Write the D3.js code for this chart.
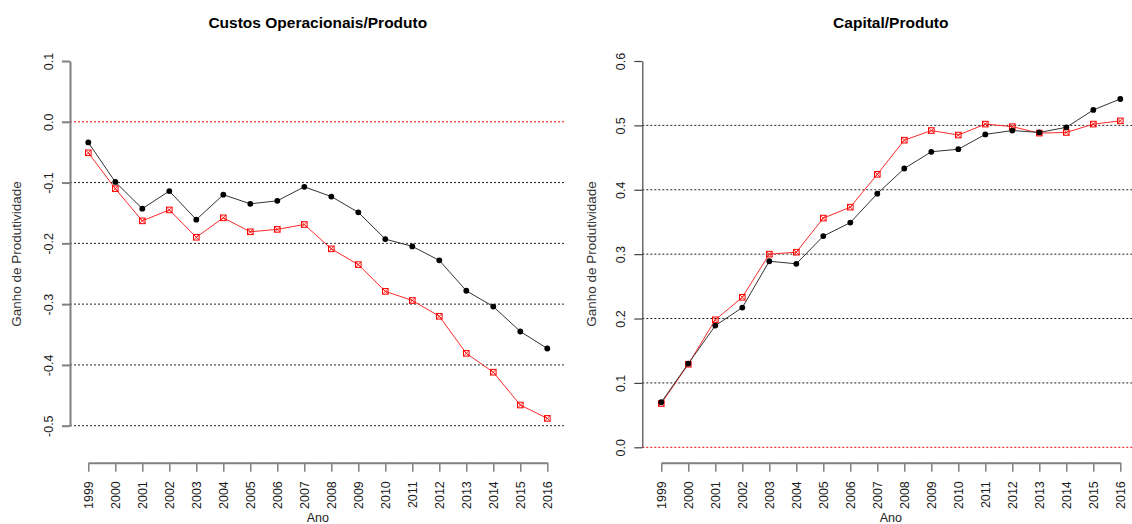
<!DOCTYPE html>
<html>
<head>
<meta charset="utf-8">
<script src="https://cdn.jsdelivr.net/npm/d3@7"></script>
<style>
  body { margin: 0; background: #fff; }
  svg { display: block; font-family: "Liberation Sans", Arial, sans-serif; }
</style>
</head>
<body>
<svg id="chart" width="1132" height="524"></svg>
<script>
// anos do eixo x
const anos = d3.range(1999, 2017);

// Custos Operacionais/Produto
const custos_preto = [-0.034, -0.099, -0.143, -0.114, -0.161, -0.120, -0.135, -0.130, -0.107,
    -0.123, -0.149, -0.193, -0.205, -0.228, -0.278, -0.304, -0.345, -0.373];
const custos_vermelho = [-0.051, -0.110, -0.163, -0.145, -0.190, -0.158, -0.181, -0.177, -0.169,
    -0.209, -0.235, -0.279, -0.294, -0.320, -0.381, -0.412, -0.466, -0.488];
const custos_ticks = [0.1, 0.0, -0.1, -0.2, -0.3, -0.4, -0.5];
const custos_grid = [-0.1, -0.2, -0.3, -0.4, -0.5];

// Capital/Produto
const capital_preto = [0.070, 0.130, 0.189, 0.217, 0.289, 0.285, 0.328, 0.349, 0.394,
    0.433, 0.459, 0.463, 0.486, 0.492, 0.489, 0.497, 0.524, 0.541];
const capital_vermelho = [0.068, 0.129, 0.198, 0.233, 0.300, 0.303, 0.356, 0.373, 0.424,
    0.477, 0.492, 0.485, 0.502, 0.498, 0.488, 0.489, 0.502, 0.507];
const capital_ticks = [0.0, 0.1, 0.2, 0.3, 0.4, 0.5, 0.6];
const capital_grid = [0.1, 0.2, 0.3, 0.4, 0.5];

const svg = d3.select('svg#chart');

function painel(cfg) {
    const x = d3.scaleLinear().domain([1999, 2016]).range(cfg.xr);
    const y = d3.scaleLinear().domain(cfg.yd).range(cfg.yr);
    const g = svg.append('g');
    const left = cfg.axisX;
    const right = cfg.xr[1] + 18.4;

    // linhas de grade pontilhadas
    g.selectAll('line.grid')
        .data(cfg.grid)
        .enter()
        .append('line')
        .attr('x1', left).attr('x2', right)
        .attr('y1', d => y(d)).attr('y2', d => y(d))
        .attr('stroke', '#222')
        .attr('stroke-width', 1)
        .attr('stroke-dasharray', '2,2');
    // linha de referencia no zero
    g.append('line')
        .attr('x1', left).attr('x2', right)
        .attr('y1', y(0)).attr('y2', y(0))
        .attr('stroke', '#ff0000')
        .attr('stroke-width', 1)
        .attr('stroke-dasharray', '2,2');

    // eixo y
    const ay = g.append('g')
        .attr('transform', 'translate(' + left + ',0)')
        .call(d3.axisLeft(y).tickValues(cfg.ticks).tickSize(8).tickSizeOuter(0)
            .tickFormat(d => d.toFixed(1)));
    ay.select('.domain').attr('stroke', cfg.ycol).attr('stroke-width', cfg.yw);
    ay.selectAll('.tick line').attr('stroke', cfg.ycol).attr('stroke-width', cfg.yw);
    ay.selectAll('.tick text')
        .attr('x', 0).attr('y', 0).attr('dy', 0)
        .attr('transform', 'translate(-17.5,0) rotate(-90)')
        .attr('text-anchor', 'middle')
        .style('font-size', '12.5px')
        .attr('fill', '#1a1a1a');

    // eixo x
    const ax = g.append('g')
        .attr('transform', 'translate(0,462.7)')
        .call(d3.axisBottom(x).tickValues(anos).tickSize(9).tickSizeOuter(0)
            .tickFormat(d3.format('d')));
    ax.select('.domain').attr('stroke', '#808080').attr('stroke-width', 2);
    ax.selectAll('.tick line').attr('stroke', '#808080').attr('stroke-width', 1.5);
    ax.selectAll('.tick text')
        .attr('x', 0).attr('y', 0).attr('dy', 0)
        .attr('transform', 'translate(4.5,18.5) rotate(-90)')
        .attr('text-anchor', 'end')
        .style('font-size', '12.5px')
        .attr('fill', '#1a1a1a');

    // titulo e rotulos
    g.append('text')
        .attr('x', (cfg.xr[0] + cfg.xr[1]) / 2).attr('y', 28)
        .attr('text-anchor', 'middle')
        .style('font-size', '15.5px').style('font-weight', 'bold')
        .text(cfg.title);
    g.append('text')
        .attr('x', (cfg.xr[0] + cfg.xr[1]) / 2).attr('y', 522)
        .attr('text-anchor', 'middle')
        .style('font-size', '12.5px')
        .attr('fill', '#222')
        .text('Ano');
    g.append('text')
        .attr('transform', 'translate(' + cfg.ylabX + ',254) rotate(-90)')
        .attr('text-anchor', 'middle')
        .style('font-size', '13.5px')
        .attr('fill', '#333')
        .text('Ganho de Produtividade');

    const line = d3.line().x((d, i) => x(anos[i])).y(d => y(d));

    // serie vermelha (quadrado com x)
    g.append('path')
        .datum(cfg.red)
        .attr('d', line)
        .attr('fill', 'none')
        .attr('stroke', '#ff2a2a')
        .attr('stroke-width', 1);
    const sq = g.selectAll('g.sq')
        .data(cfg.red)
        .enter()
        .append('g')
        .attr('transform', (d, i) => 'translate(' + x(anos[i]) + ',' + y(d) + ')');
    sq.append('rect')
        .attr('x', -2.8).attr('y', -2.8).attr('width', 5.6).attr('height', 5.6)
        .attr('fill', 'none').attr('stroke', '#ff0000').attr('stroke-width', 1);
    sq.append('path')
        .attr('d', 'M-2.8,-2.8L2.8,2.8M-2.8,2.8L2.8,-2.8')
        .attr('stroke', '#ff0000').attr('stroke-width', 0.8);

    // serie preta (circulos)
    g.append('path')
        .datum(cfg.black)
        .attr('d', line)
        .attr('fill', 'none')
        .attr('stroke', '#333')
        .attr('stroke-width', 1);
    g.selectAll('circle.pt')
        .data(cfg.black)
        .enter()
        .append('circle')
        .attr('cx', (d, i) => x(anos[i]))
        .attr('cy', d => y(d))
        .attr('r', 2.9)
        .attr('fill', '#000');
}

painel({
    title: 'Custos Operacionais/Produto',
    xr: [88.3, 547.3], axisX: 70,
    yd: [-0.5, 0.1], yr: [425.7, 61],
    ticks: custos_ticks, grid: custos_grid,
    black: custos_preto, red: custos_vermelho,
    ylabX: 21, ycol: '#808080', yw: 2
});
painel({
    title: 'Capital/Produto',
    xr: [661.3, 1120.3], axisX: 642.3,
    yd: [0, 0.6], yr: [447.3, 61],
    ticks: capital_ticks, grid: capital_grid,
    black: capital_preto, red: capital_vermelho,
    ylabX: 595.5, ycol: '#444', yw: 1.2
});
</script>
</body>
</html>
